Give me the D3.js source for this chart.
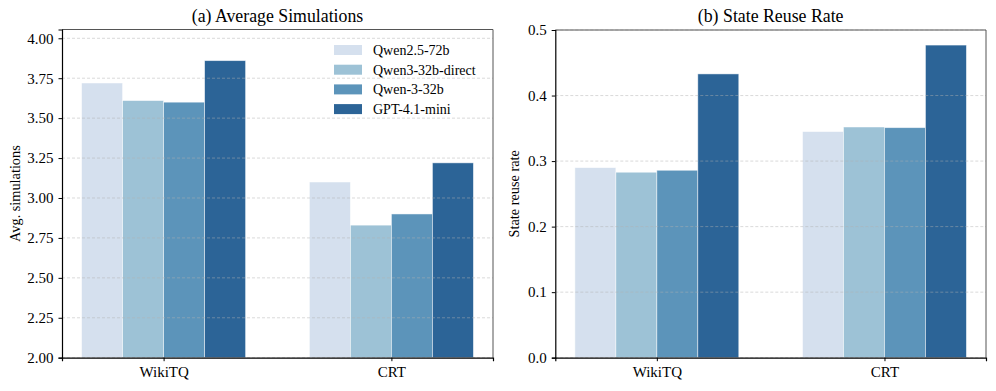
<!DOCTYPE html>
<html>
<head>
<meta charset="utf-8">
<script src="https://cdn.jsdelivr.net/npm/d3@7"></script>
<style>
  body { margin: 0; background: #fff; }
  text { font-family: "Liberation Serif", "DejaVu Serif", serif; fill: #000; }
</style>
</head>
<body>
<svg id="chart" width="996" height="391"></svg>
<script>
// data
var categories = ["WikiTQ", "CRT"]
var models = ["Qwen2.5-72b", "Qwen3-32b-direct", "Qwen-3-32b", "GPT-4.1-mini"]
var colors = ["#d5e0ee", "#9dc2d6", "#5c94ba", "#2c6497"]

var avgSimulations = [
  [3.72, 3.61, 3.60, 3.86],   // WikiTQ
  [3.10, 2.83, 2.90, 3.22]    // CRT
]
var reuseRate = [
  [0.290, 0.283, 0.286, 0.433],
  [0.345, 0.352, 0.351, 0.477]
]

var simTicks = [2.00, 2.25, 2.50, 2.75, 3.00, 3.25, 3.50, 3.75, 4.00]
var rateTicks = [0.0, 0.1, 0.2, 0.3, 0.4, 0.5]

var svg = d3.select("#chart")

function panel(opts) {
  var g = svg.append("g")
  var m = opts.box
  var barW = 0.18

  // category axis in "bar units" like matplotlib: centers at 0 and 1
  var x = d3.scaleLinear().domain([-0.446, 1.446]).range([m.left, m.right])
  var y = d3.scaleLinear().domain(opts.ydomain).range([m.bottom, m.top])

  // bars
  opts.values.forEach(function(row, ci) {
    g.selectAll(null)
      .data(row)
      .enter()
      .append("rect")
      .attr("x", function(d, i) { return x(ci + (i - 2) * barW) })
      .attr("width", x(barW) - x(0))
      .attr("y", function(d) { return y(d) })
      .attr("height", function(d) { return y(opts.ydomain[0]) - y(d) })
      .attr("fill", function(d, i) { return colors[i] })
      .attr("stroke", "#ffffff")
      .attr("stroke-opacity", 0.6)
      .attr("stroke-width", 0.8)
  })

  // dashed grid on top of bars
  g.selectAll(null)
    .data(opts.ticks)
    .enter()
    .append("line")
    .attr("x1", m.left).attr("x2", m.right)
    .attr("y1", function(d) { return y(d) }).attr("y2", function(d) { return y(d) })
    .attr("stroke", "#b0b0b0")
    .attr("stroke-opacity", 0.6)
    .attr("stroke-width", 0.8)
    .attr("stroke-dasharray", "3,2")

  // frame: top/right gray, left/bottom black
  g.append("line").attr("x1", m.left).attr("x2", m.right).attr("y1", m.top).attr("y2", m.top)
    .attr("stroke", "#555").attr("stroke-width", 1)
  g.append("line").attr("x1", m.right).attr("x2", m.right).attr("y1", m.top).attr("y2", m.bottom)
    .attr("stroke", "#555").attr("stroke-width", 1)

  var yAxis = d3.axisLeft(y).tickValues(opts.ticks).tickFormat(opts.fmt).tickSize(3.5).tickPadding(5)
  var ya = g.append("g").attr("transform", "translate(" + m.left + ",0)").call(yAxis)
  ya.select(".domain").attr("stroke", "#000").attr("stroke-width", 1.2)
  ya.selectAll("text").style("font-size", "15px")

  var xAxis = d3.axisBottom(x).tickValues([0, 1]).tickFormat(function(d) { return categories[d] })
    .tickSize(3.5).tickPadding(5)
  var xa = g.append("g").attr("transform", "translate(0," + m.bottom + ")").call(xAxis)
  xa.select(".domain").attr("stroke", "#000").attr("stroke-width", 1.2)
  xa.selectAll("text").style("font-size", "15px")

  // title
  g.append("text")
    .attr("x", (m.left + m.right) / 2).attr("y", 22)
    .attr("text-anchor", "middle")
    .style("font-size", "17.8px")
    .text(opts.title)

  // y label
  g.append("text")
    .attr("transform", "translate(" + opts.ylabelX + "," + ((m.top + m.bottom) / 2) + ") rotate(-90)")
    .attr("text-anchor", "middle")
    .style("font-size", "14.3px")
    .text(opts.ylabel)

  return g
}

var left = panel({
  box: { left: 62, right: 493, top: 29.5, bottom: 357.7 },
  ydomain: [2, 4.055],
  values: avgSimulations,
  ticks: simTicks,
  fmt: d3.format(".2f"),
  title: "(a) Average Simulations",
  ylabel: "Avg. simulations",
  ylabelX: 20
})

panel({
  box: { left: 555.3, right: 986, top: 30, bottom: 357.7 },
  ydomain: [0, 0.5],
  values: reuseRate,
  ticks: rateTicks,
  fmt: d3.format(".1f"),
  title: "(b) State Reuse Rate",
  ylabel: "State reuse rate",
  ylabelX: 519
})

// legend (left panel only)
var legend = left.selectAll(".leg")
  .data(models)
  .enter()
  .append("g")
  .attr("class", "leg")
  .attr("transform", function(d, i) { return "translate(334," + (45 + i * 19.7) + ")" })
legend.append("rect")
  .attr("width", 28).attr("height", 10)
  .attr("fill", function(d, i) { return colors[i] })
legend.append("text")
  .attr("x", 39).attr("y", 10)
  .style("font-size", "14px")
  .text(function(d) { return d })
</script>
</body>
</html>
